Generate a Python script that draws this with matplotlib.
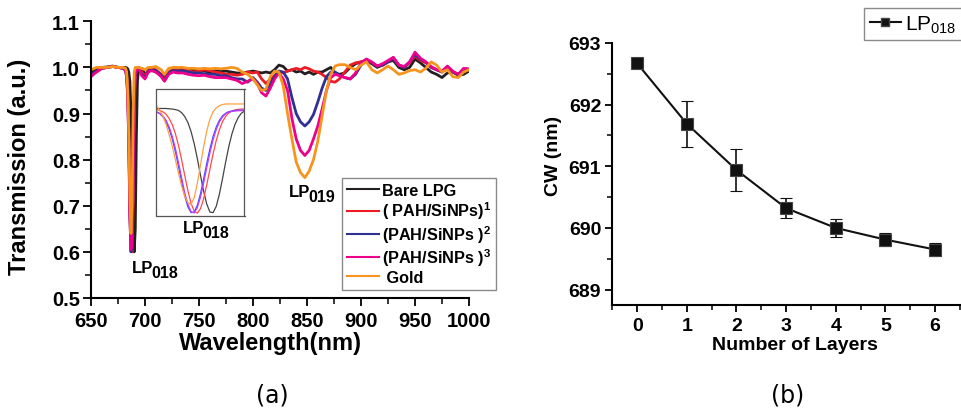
import matplotlib
matplotlib.use('Agg')
import matplotlib.pyplot as plt
from matplotlib.ticker import MultipleLocator
from matplotlib.lines import Line2D

plt.rcParams['font.family'] = ['Liberation Sans', 'DejaVu Sans']
plt.rcParams['mathtext.fontset'] = 'custom'
plt.rcParams['mathtext.rm'] = 'Liberation Sans'
plt.rcParams['mathtext.bf'] = 'Liberation Sans:bold'
plt.rcParams['mathtext.it'] = 'Liberation Sans:italic'

# ---------------- data: panel (a) ----------------
wavelength = [650, 655, 660, 665, 670, 675, 680,
              682, 683, 684, 685, 686, 687, 688, 689, 690, 691, 692, 693, 694,
              697, 700, 703, 706, 710, 715, 718, 722, 726, 730,
              735, 740, 745, 750, 755, 760, 765, 770, 775, 780, 785, 790, 795,
              800, 804, 808, 812, 816, 820, 824, 828, 832, 836, 840, 844, 848,
              852, 856, 860, 864, 868, 872, 876, 880,
              885, 890, 895, 900, 905, 910, 915, 920, 925, 930, 935, 940, 945,
              950, 955, 960, 965, 970, 975, 980, 985, 990, 995, 1000]

bare_lpg = [0.990, 0.996, 1.000, 1.001, 1.003, 1.000, 1.000,
            1.000, 0.999, 0.997, 0.990, 0.970, 0.900, 0.780, 0.660, 0.600, 0.650, 0.850, 0.970, 0.995,
            0.998, 0.985, 0.992, 0.995, 0.990, 0.985, 0.978, 0.990, 0.995, 0.994,
            0.996, 0.995, 0.995, 0.993, 0.992, 0.990, 0.993, 0.991, 0.992, 0.990, 0.988, 0.987, 0.990,
            0.992, 0.990, 0.988, 0.990, 0.988, 0.995, 1.005, 1.002, 0.992, 0.995, 0.990, 0.992, 0.986,
            0.990, 0.985, 0.990, 0.990, 0.995, 1.000, 0.988, 0.985,
            0.988, 1.000, 1.008, 1.012, 1.015, 1.008, 1.000, 1.005, 1.012, 1.015, 1.000, 0.995, 1.000,
            1.018, 1.010, 1.000, 0.990, 0.985, 0.978, 0.988, 0.990, 0.983, 0.985, 0.992]

pah1 = [0.985, 0.990, 0.998, 1.000, 1.002, 1.000, 0.998,
        0.995, 0.985, 0.950, 0.860, 0.700, 0.610, 0.600, 0.700, 0.900, 0.980, 0.995, 1.000, 1.000,
        0.990, 0.982, 0.995, 0.998, 0.995, 0.985, 0.975, 0.990, 0.995, 0.995,
        0.995, 0.993, 0.990, 0.992, 0.995, 0.993, 0.990, 0.988, 0.985, 0.985, 0.983, 0.985, 0.990,
        0.988, 0.990, 0.975, 0.965, 0.975, 0.982, 0.992, 0.988, 0.992, 0.995, 0.998, 0.995, 1.000,
        0.997, 0.992, 0.990, 0.985, 0.978, 0.970, 0.968, 0.975,
        0.990, 1.005, 1.010, 1.012, 1.016, 1.010, 1.003, 1.005, 1.012, 1.020, 1.005, 1.000, 1.010,
        1.025, 1.015, 1.010, 1.000, 0.995, 0.990, 1.000, 0.990, 0.985, 0.995, 0.995]

pah2 = [0.985, 0.992, 0.998, 1.000, 1.002, 1.000, 0.998,
        0.993, 0.980, 0.940, 0.840, 0.680, 0.600, 0.620, 0.760, 0.930, 0.985, 0.995, 1.000, 1.000,
        0.985, 0.978, 0.992, 0.995, 0.993, 0.983, 0.972, 0.988, 0.993, 0.992,
        0.993, 0.990, 0.988, 0.988, 0.986, 0.985, 0.985, 0.982, 0.982, 0.978, 0.975, 0.975, 0.968,
        0.978, 0.968, 0.955, 0.950, 0.965, 0.980, 0.992, 0.990, 0.975, 0.935, 0.900, 0.882, 0.873,
        0.882, 0.898, 0.925, 0.955, 0.980, 0.990, 0.990, 0.983,
        0.978, 0.975, 0.985, 1.005, 1.018, 1.010, 1.003, 1.005, 1.012, 1.020, 1.005, 1.000, 1.012,
        1.028, 1.018, 1.012, 1.000, 0.995, 0.990, 1.000, 0.990, 0.985, 0.995, 0.995]

pah3 = [0.980, 0.990, 0.998, 1.000, 1.002, 1.000, 0.998,
        0.993, 0.980, 0.935, 0.830, 0.675, 0.605, 0.625, 0.770, 0.935, 0.985, 0.995, 1.000, 1.000,
        0.982, 0.975, 0.990, 0.993, 0.990, 0.980, 0.970, 0.985, 0.990, 0.988,
        0.988, 0.985, 0.983, 0.982, 0.983, 0.980, 0.978, 0.978, 0.978, 0.975, 0.972, 0.965, 0.970,
        0.975, 0.965, 0.945, 0.938, 0.955, 0.975, 0.988, 0.975, 0.950, 0.890, 0.845, 0.820, 0.809,
        0.820, 0.845, 0.873, 0.910, 0.950, 0.978, 0.985, 0.982,
        0.978, 0.975, 0.988, 1.010, 1.018, 1.012, 1.003, 1.008, 1.015, 1.022, 1.005, 1.002, 1.012,
        1.033, 1.020, 1.012, 1.002, 0.995, 0.992, 1.003, 0.992, 0.985, 0.998, 0.997]

gold = [0.995, 1.000, 1.000, 1.000, 1.002, 1.000, 1.000,
        0.998, 0.990, 0.950, 0.860, 0.720, 0.640, 0.700, 0.900, 0.990, 1.000, 1.000, 1.000, 1.000,
        0.998, 0.995, 1.000, 1.000, 1.002, 0.995, 0.985, 0.998, 1.000, 1.000,
        1.000, 0.998, 0.998, 0.997, 0.998, 0.997, 0.998, 0.997, 0.998, 1.000, 0.998, 0.990, 0.985,
        0.975, 0.962, 0.950, 0.953, 0.980, 0.992, 0.990, 0.960, 0.900, 0.845, 0.795, 0.772, 0.761,
        0.775, 0.800, 0.840, 0.895, 0.950, 0.985, 1.003, 1.006,
        1.006, 1.000, 0.995, 1.005, 1.012, 0.995, 0.988, 0.995, 1.003, 0.995, 0.985, 0.988, 0.993,
        0.995, 0.990, 0.998, 1.012, 1.005, 0.990, 0.995, 0.980, 0.978, 0.990, 0.995]

series_labels = ['Bare LPG', r'( PAH/SiNPs)$^{\mathbf{1}}$', r'(PAH/SiNPs )$^{\mathbf{2}}$',
                 r'(PAH/SiNPs )$^{\mathbf{3}}$', ' Gold']

# inset (zoom on LP018 dip)
inset_wl = [682.0, 682.5, 683.0, 683.5, 684.0, 684.5, 685.0, 685.5, 686.0, 686.5,
            687.0, 687.5, 688.0, 688.5, 689.0, 689.5, 690.0, 690.5, 691.0, 691.5,
            692.0, 692.5, 693.0, 693.5, 694.0, 694.5, 695.0, 695.5, 696.0]
inset_bare = [0.981, 0.981, 0.981, 0.981, 0.980, 0.979, 0.977, 0.974, 0.966, 0.952,
              0.931, 0.899, 0.856, 0.803, 0.744, 0.688, 0.642, 0.614, 0.612, 0.634,
              0.677, 0.732, 0.791, 0.846, 0.891, 0.925, 0.949, 0.964, 0.972]
inset_pah1 = [0.977, 0.974, 0.969, 0.961, 0.946, 0.924, 0.892, 0.850, 0.799, 0.743,
              0.689, 0.645, 0.617, 0.610, 0.626, 0.661, 0.711, 0.766, 0.820, 0.867,
              0.905, 0.934, 0.953, 0.965, 0.972, 0.976, 0.978, 0.979, 0.979]
inset_pah2 = [0.969, 0.963, 0.952, 0.935, 0.909, 0.874, 0.828, 0.776, 0.721, 0.670,
              0.632, 0.612, 0.614, 0.638, 0.679, 0.732, 0.787, 0.838, 0.882, 0.915,
              0.939, 0.955, 0.964, 0.970, 0.972, 0.974, 0.975, 0.975, 0.975]
inset_pah3 = [0.968, 0.964, 0.955, 0.940, 0.916, 0.883, 0.840, 0.789, 0.735, 0.682,
              0.641, 0.615, 0.611, 0.630, 0.667, 0.717, 0.772, 0.824, 0.870, 0.906,
              0.933, 0.951, 0.962, 0.968, 0.971, 0.972, 0.973, 0.973, 0.973]
inset_gold = [0.990, 0.975, 0.955, 0.926, 0.889, 0.848, 0.800, 0.752, 0.706, 0.669,
              0.647, 0.641, 0.665, 0.716, 0.781, 0.846, 0.902, 0.943, 0.969, 0.983,
              0.991, 0.995, 0.997, 0.997, 0.997, 0.997, 0.997, 0.997, 0.997]

# ---------------- data: panel (b) ----------------
layers = [0, 1, 2, 3, 4, 5, 6]
cw = [692.67, 691.69, 690.94, 690.32, 690.00, 689.81, 689.65]
cw_err = [0.0, 0.37, 0.34, 0.16, 0.15, 0.10, 0.10]

main_colors = ['#231f20', '#ed1c24', '#2e3192', '#ec008c', '#f7941d']
inset_colors = ['#444444', '#ff4a4a', '#4a4aff', '#c03cf0', '#ffa040']

W, H = 962, 410
fig = plt.figure(figsize=(W / 100, H / 100), dpi=100)


def px_rect(l, t, r, b):
    return [l / W, 1 - b / H, (r - l) / W, (b - t) / H]


def style_axes(a, major_len, minor_len, fs, padx, pady):
    for s in ['top', 'right']:
        a.spines[s].set_visible(False)
    for s in ['left', 'bottom']:
        a.spines[s].set_linewidth(1.5)
    a.tick_params(which='major', direction='out', length=major_len, width=1.3, labelsize=fs)
    a.tick_params(which='minor', direction='out', length=minor_len, width=1.1)
    a.tick_params(axis='x', which='major', pad=padx)
    a.tick_params(axis='y', which='major', pad=pady)
    for lab in a.get_xticklabels() + a.get_yticklabels():
        lab.set_fontweight('bold')


# ---------------- panel (a) ----------------
ax = fig.add_axes(px_rect(91, 22.3, 469, 299))
all_series = [bare_lpg, pah1, pah2, pah3, gold]
lines = []
for ys, c, lab in zip(all_series, main_colors, series_labels):
    ln, = ax.plot(wavelength, ys, color=c, lw=2.0, label=lab)
    lines.append(ln)
ax.set_xlim(650, 1000)
ax.set_ylim(0.5, 1.1)
ax.xaxis.set_major_locator(MultipleLocator(50))
ax.xaxis.set_minor_locator(MultipleLocator(25))
ax.yaxis.set_major_locator(MultipleLocator(0.1))
ax.yaxis.set_minor_locator(MultipleLocator(0.05))
ax.yaxis.set_major_formatter(matplotlib.ticker.FormatStrFormatter('%.1f'))
style_axes(ax, 6, 4, 14.5, 3.5, 2)
ax.set_xlabel('Wavelength(nm)', fontsize=17, fontweight='bold')
ax.set_ylabel('Transmission (a.u.)', fontsize=17, fontweight='bold')
ax.xaxis.set_label_coords(0.476, -0.12)
ax.yaxis.set_label_coords(-0.158, 0.477)

leg = ax.legend(handles=lines, loc='upper left',
                bbox_to_anchor=(341.7 / W, 1 - 179.3 / H), bbox_transform=fig.transFigure,
                prop={'weight': 'bold', 'size': 11.7}, frameon=True, fancybox=False,
                edgecolor='#8a8a8a', framealpha=1, borderpad=0.3, labelspacing=0.1,
                handlelength=2.0, handletextpad=0.2, borderaxespad=0)
leg.get_frame().set_linewidth(1.0)
for lh in leg.get_lines():
    lh.set_linewidth(1.5)

# inset
axin = fig.add_axes(px_rect(156.5, 90, 244.5, 217))
for ys, c in zip([inset_bare, inset_pah1, inset_pah2, inset_pah3, inset_gold], inset_colors):
    axin.plot(inset_wl, ys, color=c, lw=0.9)
axin.set_xlim(682, 696)
axin.set_ylim(0.60, 1.05)
axin.set_xticks([])
axin.set_yticks([])
for s in axin.spines.values():
    s.set_color('#555555')
    s.set_linewidth(0.9)


def lp_label(x_lp, y_lp, x_sub, y_sub, sub):
    fig.text(x_lp / W, 1 - y_lp / H, 'LP', fontsize=12, fontweight='bold',
             ha='left', va='baseline')
    fig.text(x_sub / W, 1 - y_sub / H, sub, fontsize=11.5, fontweight='bold',
             ha='left', va='baseline')


lp_label(132, 273.3, 151.7, 278.5, '018')
lp_label(183, 233.3, 202, 238.5, '018')
lp_label(288.5, 196.7, 308.5, 201.7, '019')

fig.text(272 / W, 1 - 396 / H, '(a)', fontsize=17, family='DejaVu Sans',
         ha='center', va='center')

# ---------------- panel (b) ----------------
ax2 = fig.add_axes(px_rect(612.3, 44, 960, 306))
ax2.errorbar(layers, cw, yerr=cw_err, fmt='-s', color='#111111', lw=1.5, ms=9,
             mfc='#111111', mec='#444444', mew=0.8, ecolor='#111111', elinewidth=1.2,
             capsize=4, capthick=1.2)
ax2.set_xlim(-0.5, 6.5)
ax2.set_ylim(688.75, 693)
ax2.xaxis.set_major_locator(MultipleLocator(1))
ax2.xaxis.set_minor_locator(MultipleLocator(0.5))
ax2.yaxis.set_major_locator(MultipleLocator(1))
ax2.yaxis.set_minor_locator(MultipleLocator(0.5))
style_axes(ax2, 5, 3.5, 14, 4, 3)
ax2.set_xlabel('Number of Layers', fontsize=14, fontweight='bold')
ax2.set_ylabel('CW (nm)', fontsize=14, fontweight='bold')
ax2.xaxis.set_label_coords(0.525, -0.118)
ax2.yaxis.set_label_coords(-0.145, 0.573)

proxy = Line2D([], [], color='#111111', lw=1.5, marker='s', ms=6, mfc='#111111', mec='#444444')
leg2 = ax2.legend(handles=[proxy], labels=[r'LP$_{018}$'], loc='upper left',
                  bbox_to_anchor=(864.3 / W, 1 - 9.3 / H), bbox_transform=fig.transFigure,
                  prop={'size': 15}, frameon=True, fancybox=False, edgecolor='#8a8a8a',
                  framealpha=1, borderpad=0.25, handlelength=1.5, handletextpad=0.2,
                  borderaxespad=0)
leg2.get_frame().set_linewidth(1.0)

fig.text(788 / W, 1 - 396 / H, '(b)', fontsize=17, family='DejaVu Sans',
         ha='center', va='center')

fig.savefig('out.png', dpi=100)
